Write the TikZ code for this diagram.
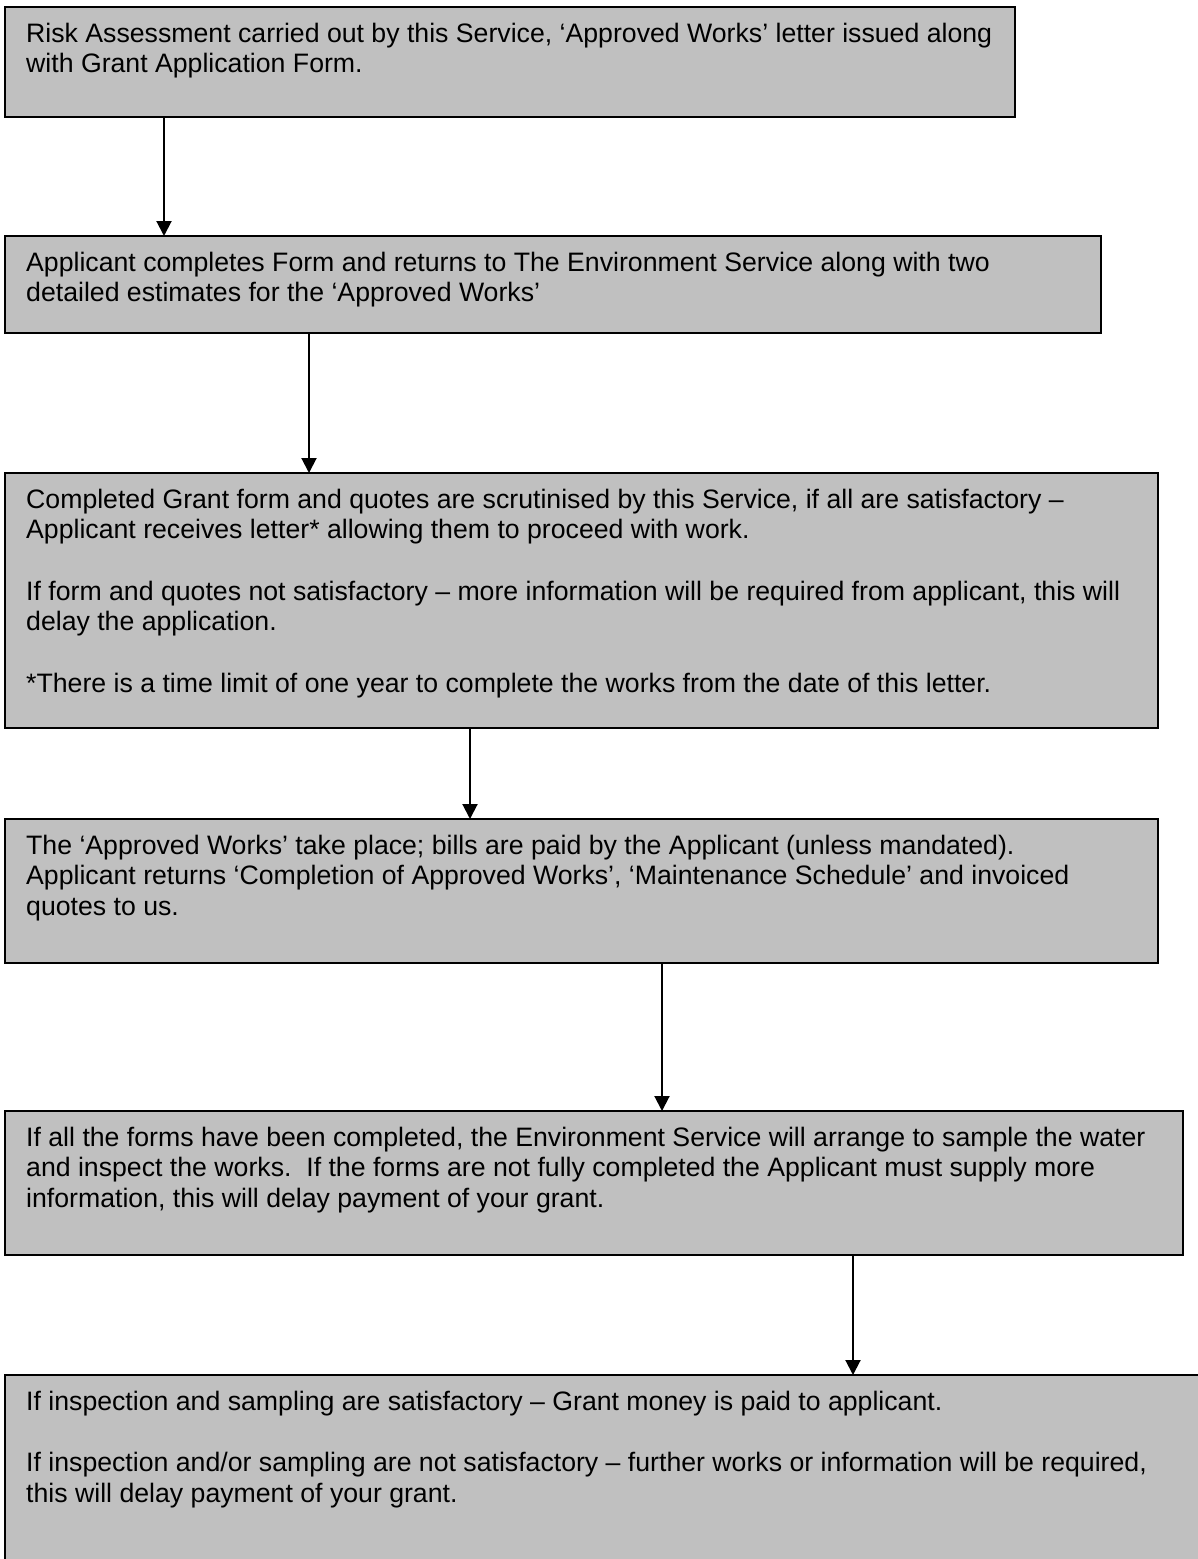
\documentclass[tikz,border=0pt]{standalone}
\usepackage{fontspec}
\setmainfont{Liberation Sans}
\usetikzlibrary{arrows.meta}
\definecolor{boxgray}{RGB}{192,192,192}
\begin{document}
\begin{tikzpicture}[x=1pt,y=-1pt,
  box/.style={draw=black, line width=2pt, fill=boxgray, anchor=north west, inner sep=0pt, outer sep=0pt},
  txt/.style={anchor=north west, inner sep=0pt, align=left, font=\fontsize{26.67}{30.67}\selectfont},
  arr/.style={line width=2pt, -{Triangle[length=15pt,width=15pt]}}]
\useasboundingbox (0,0) rectangle (1198,1559);
\fill[white] (0,0) rectangle (1198,1559);
\clip (0,0) rectangle (1198,1559);
% boxes
\node[box, minimum width=1010, minimum height=110] (b1) at (5,7) {};
\node[box, minimum width=1096, minimum height=97] (b2) at (5,236) {};
\node[box, minimum width=1153, minimum height=255] (b3) at (5,473) {};
\node[box, minimum width=1153, minimum height=144] (b4) at (5,819) {};
\node[box, minimum width=1178, minimum height=144] (b5) at (5,1111) {};
\node[box, minimum width=1230, minimum height=240] (b6) at (5,1375) {};
% texts
\node[txt] (t1) at ([shift={(21,11)}]b1.north west) {\rule{0pt}{24pt}Risk Assessment carried out by this Service, ‘Approved Works’ letter issued along\\with Grant Application Form.};
\node[txt] (t2) at ([shift={(21,11)}]b2.north west) {\rule{0pt}{24pt}Applicant completes Form and returns to The Environment Service along with two\\detailed estimates for the ‘Approved Works’};
\node[txt] (t3) at ([shift={(21,11)}]b3.north west) {\rule{0pt}{24pt}Completed Grant form and quotes are scrutinised by this Service, if all are satisfactory –\\Applicant receives letter* allowing them to proceed with work.\\[30.67pt]If form and quotes not satisfactory – more information will be required from applicant, this will\\delay the application.\\[30.67pt]*There is a time limit of one year to complete the works from the date of this letter.};
\node[txt] (t4) at ([shift={(21,11)}]b4.north west) {\rule{0pt}{24pt}The ‘Approved Works’ take place; bills are paid by the Applicant (unless mandated).\\Applicant returns ‘Completion of Approved Works’, ‘Maintenance Schedule’ and invoiced\\quotes to us.};
\node[txt] (t5) at ([shift={(21,11)}]b5.north west) {\rule{0pt}{24pt}If all the forms have been completed, the Environment Service will arrange to sample the water\\and inspect the works.\ \ If the forms are not fully completed the Applicant must supply more\\information, this will delay payment of your grant.};
\node[txt] (t6) at ([shift={(21,11)}]b6.north west) {\rule{0pt}{24pt}If inspection and sampling are satisfactory – Grant money is paid to applicant.\\[30.67pt]If inspection and/or sampling are not satisfactory – further works or information will be required,\\this will delay payment of your grant.};
% arrows
\coordinate (c1) at (164,0);
\coordinate (c2) at (309,0);
\coordinate (c3) at (470,0);
\coordinate (c4) at (662,0);
\coordinate (c5) at (853,0);
\draw[arr] (b1.south -| c1) -- (b2.north -| c1);
\draw[arr] (b2.south -| c2) -- (b3.north -| c2);
\draw[arr] (b3.south -| c3) -- (b4.north -| c3);
\draw[arr] (b4.south -| c4) -- (b5.north -| c4);
\draw[arr] (b5.south -| c5) -- (b6.north -| c5);
\end{tikzpicture}
\end{document}
